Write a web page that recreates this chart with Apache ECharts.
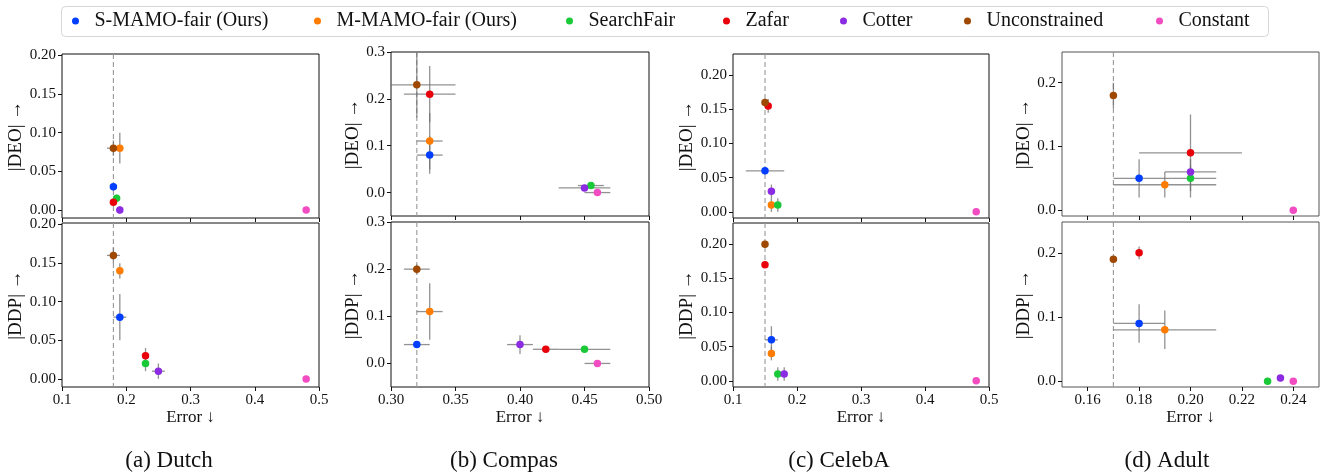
<!DOCTYPE html>
<html><head><meta charset="utf-8">
<script src="https://cdn.jsdelivr.net/npm/echarts@6.0.0/dist/echarts.min.js"></script>
<style>html,body{margin:0;padding:0;background:#fff}#c{width:1321px;height:473px}</style>
</head><body><div id="c"></div>
<script>
// ---- data ----
const methods = ['S-MAMO-fair (Ours)', 'M-MAMO-fair (Ours)', 'SearchFair', 'Zafar', 'Cotter', 'Unconstrained', 'Constant'];
const captions = ['(a) Dutch', '(b) Compas', '(c) CelebA', '(d) Adult'];
const metricNames = ['|DEO| \u2192', '|DDP| \u2192'];
const xName = 'Error \u2193';

// order: S-MAMO, M-MAMO, SearchFair, Zafar, Cotter, Unconstrained, Constant
const dutchDeoErr   = [0.18, 0.19, 0.185, 0.18, 0.19, 0.18, 0.48];
const dutchDeoErrSd = [0.005, 0.005, 0.005, 0.005, 0.005, 0.01, 0];
const dutchDeo      = [0.03, 0.08, 0.015, 0.01, 0.0, 0.08, 0.0];
const dutchDeoSd    = [0.005, 0.02, 0.005, 0.005, 0.005, 0.01, 0];

const dutchDdpErr   = [0.19, 0.19, 0.23, 0.23, 0.25, 0.18, 0.48];
const dutchDdpErrSd = [0.01, 0.005, 0.005, 0.005, 0.01, 0.01, 0];
const dutchDdp      = [0.08, 0.14, 0.02, 0.03, 0.01, 0.16, 0.0];
const dutchDdpSd    = [0.03, 0.01, 0.01, 0.01, 0.01, 0.01, 0];

const compasDeoErr   = [0.33, 0.33, 0.455, 0.33, 0.45, 0.32, 0.46];
const compasDeoErrSd = [0.01, 0.01, 0.01, 0.02, 0.02, 0.03, 0.01];
const compasDeo      = [0.08, 0.11, 0.015, 0.21, 0.01, 0.23, 0.0];
const compasDeoSd    = [0.04, 0.06, 0.005, 0.06, 0.005, 0.07, 0];

const compasDdpErr   = [0.32, 0.33, 0.45, 0.42, 0.40, 0.32, 0.46];
const compasDdpErrSd = [0.01, 0.01, 0.02, 0.01, 0.01, 0.01, 0.01];
const compasDdp      = [0.04, 0.11, 0.03, 0.03, 0.04, 0.20, 0.0];
const compasDdpSd    = [0.005, 0.06, 0.005, 0.005, 0.02, 0.01, 0];

const celebaDeoErr   = [0.15, 0.16, 0.17, 0.155, 0.16, 0.15, 0.48];
const celebaDeoErrSd = [0.03, 0.003, 0.003, 0.003, 0.003, 0.003, 0];
const celebaDeo      = [0.06, 0.01, 0.01, 0.155, 0.03, 0.16, 0.0];
const celebaDeoSd    = [0.005, 0.01, 0.01, 0.01, 0.01, 0.005, 0];

const celebaDdpErr   = [0.16, 0.16, 0.17, 0.15, 0.18, 0.15, 0.48];
const celebaDdpErrSd = [0.01, 0.003, 0.003, 0.003, 0.003, 0.003, 0];
const celebaDdp      = [0.06, 0.04, 0.01, 0.17, 0.01, 0.20, 0.0];
const celebaDdpSd    = [0.02, 0.01, 0.01, 0.005, 0.01, 0.005, 0];

const adultDeoErr   = [0.18, 0.19, 0.20, 0.20, 0.20, 0.17, 0.24];
const adultDeoErrSd = [0.01, 0.02, 0.01, 0.02, 0.01, 0, 0];
const adultDeo      = [0.05, 0.04, 0.05, 0.09, 0.06, 0.18, 0.0];
const adultDeoSd    = [0.03, 0.02, 0.03, 0.06, 0.01, 0.02, 0];

const adultDdpErr   = [0.18, 0.19, 0.23, 0.18, 0.235, 0.17, 0.24];
const adultDdpErrSd = [0.01, 0.02, 0, 0, 0, 0, 0];
const adultDdp      = [0.09, 0.08, 0.0, 0.20, 0.005, 0.19, 0.0];
const adultDdpSd    = [0.03, 0.03, 0, 0.01, 0, 0.005, 0];

// tick labels
const dutchXTicks  = [0.1, 0.2, 0.3, 0.4, 0.5];
const compasXTicks = [0.30, 0.35, 0.40, 0.45, 0.50];
const celebaXTicks = [0.1, 0.2, 0.3, 0.4, 0.5];
const adultXTicks  = [0.16, 0.18, 0.20, 0.22, 0.24];
const dutchYTicks  = [0.00, 0.05, 0.10, 0.15, 0.20];
const compasYTicks = [0.0, 0.1, 0.2, 0.3];
const celebaYTicks = [0.00, 0.05, 0.10, 0.15, 0.20];
const adultYTicks  = [0.0, 0.1, 0.2];

// ---- styling / layout ----
const colors = ['#023eff', '#ff7c00', '#1ac938', '#e8000b', '#8b2be2', '#9f4800', '#f14cc1'];
const FONT = 'Liberation Serif';
const panels = [
  [dutchDeoErr, dutchDeoErrSd, dutchDeo, dutchDeoSd],
  [dutchDdpErr, dutchDdpErrSd, dutchDdp, dutchDdpSd],
  [compasDeoErr, compasDeoErrSd, compasDeo, compasDeoSd],
  [compasDdpErr, compasDdpErrSd, compasDdp, compasDdpSd],
  [celebaDeoErr, celebaDeoErrSd, celebaDeo, celebaDeoSd],
  [celebaDdpErr, celebaDdpErrSd, celebaDdp, celebaDdpSd],
  [adultDeoErr, adultDeoErrSd, adultDeo, adultDeoSd],
  [adultDdpErr, adultDdpErrSd, adultDdp, adultDdpSd]
];
const xTicks = [dutchXTicks, compasXTicks, celebaXTicks, adultXTicks];
const yTicks = [dutchYTicks, compasYTicks, celebaYTicks, adultYTicks];
const xDec = [1, 2, 1, 2];
const yDec = [2, 1, 2, 1];
const xRange = [[0.1, 0.5], [0.3, 0.5], [0.1, 0.5], [0.15, 0.25]];
const yRange = [[-0.0105, 0.202], [-0.05, 0.3], [-0.009, 0.231], [-0.009, 0.248]];
const colLeft = [62, 391, 733, 1062];
const colWidth = [257, 258, 256, 257];
const rowTop = [[54, 223], [52, 222], [54, 223], [52, 222]];
const rowHeight = [[164, 164], [164, 165], [164, 164], [164, 165]];
const yNameGap = [36, 27, 36, 28];
const frameColor = ['#111', '#111', '#111', '#555'];
const captionX = [169, 504, 839, 1167];
const legendX = [86, 328, 580, 737, 854, 978, 1170];

const grids = [], xAxes = [], yAxes = [], series = [];
for (let p = 0; p < 8; p++) {
  const col = Math.floor(p / 2), row = p % 2;
  grids.push({ left: colLeft[col], top: rowTop[col][row], width: colWidth[col], height: rowHeight[col][row],
    show: true, borderColor: frameColor[col], borderWidth: 1, backgroundColor: 'transparent', containLabel: false });
  xAxes.push({ type: 'value', gridIndex: p, position: 'bottom', min: xRange[col][0], max: xRange[col][1],
    axisLine: { show: false, onZero: false }, splitLine: { show: false },
    axisTick: { show: true, inside: false, length: 4, lineStyle: { color: '#111', width: 1 }, customValues: xTicks[col] },
    axisLabel: { show: row === 1, customValues: xTicks[col], margin: 6, fontFamily: FONT, fontSize: 15, color: '#111',
      formatter: v => Number(v).toFixed(xDec[col]) },
    name: row === 1 ? xName : '', nameLocation: 'middle', nameGap: 22,
    nameTextStyle: { fontFamily: FONT, fontSize: 17, color: '#111' }
  });
  yAxes.push({ type: 'value', gridIndex: p, position: 'left', min: yRange[col][0], max: yRange[col][1],
    axisLine: { show: false, onZero: false }, splitLine: { show: false },
    axisTick: { show: true, inside: false, length: 4, lineStyle: { color: '#111', width: 1 }, customValues: yTicks[col] },
    axisLabel: { customValues: yTicks[col], margin: 6, fontFamily: FONT, fontSize: 15, color: '#111',
      formatter: v => Number(v).toFixed(yDec[col]) },
    name: metricNames[row], nameLocation: 'middle', nameGap: yNameGap[col],
    nameTextStyle: { fontFamily: FONT, fontSize: 19, color: '#111' }
  });

  const [ex, exs, ey, eys] = panels[p];
  // vertical dashed reference line at Unconstrained error
  const uncX = panels[col * 2 + 1][0][5];
  series.push({ type: 'custom', xAxisIndex: p, yAxisIndex: p, silent: true, z: 1,
    data: [[uncX, 0]], encode: { x: 0, y: 1 },
    renderItem: (params, api) => {
      const cs = params.coordSys;
      const px = api.coord([api.value(0), api.value(1)])[0];
      return { type: 'line', shape: { x1: px, y1: cs.y, x2: px, y2: cs.y + cs.height },
        style: { stroke: '#999', lineWidth: 1.1, lineDash: [5, 3] } };
    }
  });
  // error bars
  series.push({ type: 'custom', xAxisIndex: p, yAxisIndex: p, silent: true, z: 2,
    data: ex.map((v, m) => [v, ey[m], exs[m], eys[m]]), encode: { x: 0, y: 1 },
    renderItem: (params, api) => {
      const cs = params.coordSys;
      const x = api.value(0), y = api.value(1), xe = api.value(2), ye = api.value(3);
      const cx = v => Math.max(cs.x, Math.min(cs.x + cs.width, v));
      const cy = v => Math.max(cs.y, Math.min(cs.y + cs.height, v));
      const children = [];
      if (xe > 0) {
        const a = api.coord([x - xe, y]), b = api.coord([x + xe, y]);
        children.push({ type: 'line', shape: { x1: cx(a[0]), y1: a[1], x2: cx(b[0]), y2: b[1] },
          style: { stroke: 'rgba(110,110,110,0.75)', lineWidth: 1.3 } });
      }
      if (ye > 0) {
        const a = api.coord([x, y + ye]), b = api.coord([x, y - ye]);
        children.push({ type: 'line', shape: { x1: a[0], y1: cy(a[1]), x2: b[0], y2: cy(b[1]) },
          style: { stroke: 'rgba(110,110,110,0.75)', lineWidth: 1.3 } });
      }
      return { type: 'group', children };
    }
  });
  for (let m = 0; m < methods.length; m++) {
    series.push({ type: 'scatter', name: methods[m], xAxisIndex: p, yAxisIndex: p, z: 3,
      data: [[ex[m], ey[m]]], symbol: 'circle', symbolSize: 7.5,
      itemStyle: { color: colors[m], opacity: 1 }, emphasis: { disabled: true } });
  }
}

const legends = methods.map((m, i) => ({
  data: [m], left: legendX[i] - 14, top: 11, padding: 0, itemWidth: 28, itemHeight: 7, icon: 'circle',
  selectedMode: false, textStyle: { fontFamily: FONT, fontSize: 20, color: '#111', lineHeight: 20 }
}));

const graphics = [
  { type: 'rect', shape: { x: 61.5, y: 6.5, width: 1207, height: 30, r: 4 },
    style: { fill: '#fff', stroke: '#d6d6d6', lineWidth: 1 }, z: -10 }
].concat(captions.map((t, i) => ({
  type: 'text', x: captionX[i], y: 461,
  style: { text: t, fontFamily: FONT, fontSize: 23, fill: '#111', align: 'center', verticalAlign: 'middle' }
})));

const chart = echarts.init(document.getElementById('c'), null, { renderer: 'canvas' });
chart.setOption({
  backgroundColor: '#fff',
  animation: false,
  grid: grids, xAxis: xAxes, yAxis: yAxes, series: series,
  legend: legends,
  graphic: graphics
});
</script>
</body></html>
